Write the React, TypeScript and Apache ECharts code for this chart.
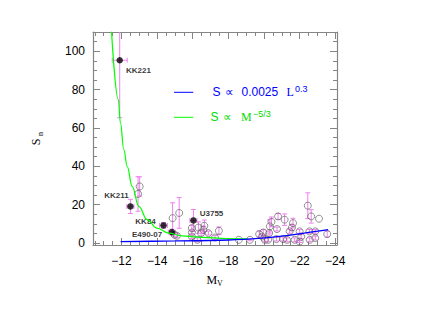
import React, { useEffect, useRef } from 'react';
import * as echarts from 'echarts';

// Labelled dwarfs (filled points)
const DWARF_NAMES = ['KK221', 'KK211', 'KK84', 'E490-07', 'U3755'];
const DWARF_MV = [-11.9, -12.5, -14.36, -14.83, -16.04];
const DWARF_SN = [95.3, 19.1, 9.2, 5.7, 11.8];
const DWARF_SN_ERR = [30, 3.7, 1.5, 1.5, 5.7];
const DWARF_MV_ERR = [0.42, 0.2, 0.22, 0.2, 0.2];

// Comparison sample (open circles)
const OPEN_MV = [
  -13.02, -12.93, -14.87, -15.24, -14.98, -15.11, -15.95, -15.95, -15.95, -16.32,
  -16.47, -16.6, -16.65, -16.26, -16.88, -17.25, -17.47, -18.59, -19.21, -19.73,
  -19.9, -20.05, -19.96, -20.33, -20.42, -20.29, -20.23, -20.79, -20.73, -20.7,
  -21.16, -21.07, -21.29, -21.44, -21.57, -21.63, -21.72, -22.0, -22.09, -22.0,
  -22.46, -22.55, -22.65, -22.57, -22.88, -22.88, -23.09, -23.55,
];
const OPEN_SN = [
  29.5, 25.6, 13.0, 15.7, 4.3, 3.8, 7.8, 5.5, 3.4, 8.1,
  5.2, 6.9, 9.0, 1.7, 5.2, 2.9, 6.4, 1.7, 1.7, 4.7,
  3.4, 1.7, 5.5, 8.7, 11.1, 5.2, 1.7, 13.9, 7.3, 2.1,
  12.2, 2.1, 1.7, 6.1, 8.1, 10.4, 1.7, 6.1, 3.4, 0.8,
  19.5, 6.1, 13.9, 1.7, 6.1, 2.6, 12.7, 4.7,
];
const OPEN_SN_ERR = [
  5, 9, 8, 8, 1, 1, 1.5, 1, 1, 3,
  1.5, 2, 3, 1, 1, 1, 2, 0, 0.5, 1.5,
  1, 1, 1.5, 3.5, 2.5, 1, 1, 1.5, 1, 1,
  3, 1, 1, 1, 1.5, 2.5, 1, 1, 1, 0.5,
  6.7, 1, 3.5, 1, 1, 1, 0, 1.5,
];

// Model curves
const GREEN_MV = [-11.44, -11.82, -11.94, -12.13, -12.32, -12.6, -12.97, -13.44, -13.99, -14.64, -15.39, -16.5, -17.9, -19.1];
const GREEN_SN = [110.3, 74.8, 62.6, 48.7, 40.0, 29.5, 19.1, 12.2, 7.8, 5.2, 3.8, 3.0, 2.4, 2.2];
const BLUE_MV = [-11.95, -15.0, -18.0, -19.5, -21.5, -23.6];
const BLUE_SN = [0.8, 1.1, 1.6, 2.3, 4.2, 7.0];

// Axis ticks
const X_MAJOR = [-24, -22, -20, -18, -16, -14, -12];
const X_MINOR = [-24, -23.5, -23, -22.5, -22, -21.5, -21, -20.5, -20, -19.5, -19, -18.5, -18, -17.5, -17, -16.5, -16, -15.5, -15, -14.5, -14, -13.5, -13, -12.5, -12, -11.5, -11, -10.5];
const Y_MAJOR = [0, 20, 40, 60, 80, 100];
const Y_MINOR = [0, 5, 10, 15, 20, 25, 30, 35, 40, 45, 50, 55, 60, 65, 70, 75, 80, 85, 90, 95, 100, 105, 110];

const X_MIN = -24.1;
const X_MAX = -10.4;
const Y_MIN = -1;
const Y_MAX = 110;

const FRAME = '#858585';
const ERR = '#ee82ee';
const SANS = 'Liberation Sans, Arial, sans-serif';
const SERIF = 'Liberation Serif, Times New Roman, serif';

// label placement for the named dwarfs (style, not data)
const LABEL_PLACE: Record<string, { pos: string; off: [number, number] }> = {
  KK221: { pos: 'right', off: [3, 10] },
  KK211: { pos: 'left', off: [1.5, -11] },
  KK84: { pos: 'left', off: [-4.5, -4] },
  'E490-07': { pos: 'left', off: [-6.5, 2.7] },
  U3755: { pos: 'right', off: [3, -7.4] },
};

const minus = (v: number) => (v < 0 ? '\u2212' + Math.abs(v) : String(v));

function makeXAxis(position: 'top' | 'bottom', values: number[], len: number, labels: boolean, line: boolean) {
  return {
    type: 'value',
    position,
    min: X_MIN,
    max: X_MAX,
    inverse: true,
    axisLine: { show: line, onZero: false, lineStyle: { color: FRAME, width: 1.2 } },
    axisTick: { show: true, inside: true, length: len, customValues: values, lineStyle: { color: FRAME, width: 1 } },
    axisLabel: labels
      ? { show: true, customValues: X_MAJOR, formatter: (v: number) => minus(v), color: '#000', fontSize: 12, fontFamily: SANS, margin: 10 }
      : { show: false },
    splitLine: { show: false },
  };
}

function makeYAxis(position: 'left' | 'right', values: number[], len: number, labels: boolean, line: boolean) {
  return {
    type: 'value',
    position,
    min: Y_MIN,
    max: Y_MAX,
    axisLine: { show: line, onZero: false, lineStyle: { color: FRAME, width: 1.2 } },
    axisTick: { show: true, inside: true, length: len, customValues: values, lineStyle: { color: FRAME, width: 1 } },
    axisLabel: labels
      ? { show: true, customValues: Y_MAJOR, formatter: (v: number) => String(v), color: '#000', fontSize: 12, fontFamily: SANS, margin: 8 }
      : { show: false },
    splitLine: { show: false },
  };
}

function buildOption() {
  const errData: number[][] = [];
  DWARF_MV.forEach((m, i) => errData.push([m, DWARF_SN[i], DWARF_SN_ERR[i], DWARF_MV_ERR[i]]));
  OPEN_MV.forEach((m, i) => errData.push([m, OPEN_SN[i], OPEN_SN_ERR[i], 0]));

  const renderErr = (_params: any, api: any) => {
    const x = api.value(0);
    const y = api.value(1);
    const ey = api.value(2);
    const ex = api.value(3);
    const c = api.coord([x, y]);
    const st = { stroke: ERR, lineWidth: 1 };
    const children: any[] = [];
    const cap = 2.5;
    if (ey > 0) {
      const hiV = Math.min(y + ey, Y_MAX);
      const hi = api.coord([x, hiV]);
      const lo = api.coord([x, y - ey]);
      children.push({ type: 'line', shape: { x1: c[0], y1: hi[1], x2: c[0], y2: lo[1] }, style: st });
      if (hiV === y + ey) children.push({ type: 'line', shape: { x1: c[0] - cap, y1: hi[1], x2: c[0] + cap, y2: hi[1] }, style: st });
      children.push({ type: 'line', shape: { x1: c[0] - cap, y1: lo[1], x2: c[0] + cap, y2: lo[1] }, style: st });
    }
    if (ex > 0) {
      const l = api.coord([x + ex, y]);
      const r = api.coord([x - ex, y]);
      children.push({ type: 'line', shape: { x1: l[0], y1: c[1], x2: r[0], y2: c[1] }, style: st });
      children.push({ type: 'line', shape: { x1: l[0], y1: c[1] - cap, x2: l[0], y2: c[1] + cap }, style: st });
      children.push({ type: 'line', shape: { x1: r[0], y1: c[1] - cap, x2: r[0], y2: c[1] + cap }, style: st });
    }
    return { type: 'group', children };
  };

  const legendY1 = 92.3;
  const legendY2 = 117.3;

  return {
    animation: false,
    backgroundColor: '#fff',
    grid: { left: 93, top: 32, width: 244, height: 213, containLabel: false },
    xAxis: [
      makeXAxis('bottom', X_MAJOR, 7, true, true),
      makeXAxis('bottom', X_MINOR, 4, false, false),
      makeXAxis('top', X_MAJOR, 7, false, true),
      makeXAxis('top', X_MINOR, 4, false, false),
    ],
    yAxis: [
      makeYAxis('left', Y_MAJOR, 7, true, true),
      makeYAxis('left', Y_MINOR, 4, false, false),
      makeYAxis('right', Y_MAJOR, 7, false, true),
      makeYAxis('right', Y_MINOR, 4, false, false),
    ],
    series: [
      {
        type: 'custom',
        name: 'errors',
        xAxisIndex: 0,
        yAxisIndex: 0,
        renderItem: renderErr,
        data: errData,
        silent: true,
        z: 1,
      },
      {
        type: 'scatter',
        name: 'sample',
        xAxisIndex: 0,
        yAxisIndex: 0,
        symbol: 'circle',
        symbolSize: 7,
        itemStyle: { color: 'rgba(0,0,0,0)', borderColor: '#555', borderWidth: 0.8 },
        data: OPEN_MV.map((m, i) => [m, OPEN_SN[i]]),
        z: 2,
      },
      {
        type: 'scatter',
        name: 'dwarfs',
        xAxisIndex: 0,
        yAxisIndex: 0,
        symbol: 'circle',
        symbolSize: 6.5,
        itemStyle: { color: '#000' },
        data: DWARF_NAMES.map((n, i) => ({
          name: n,
          value: [DWARF_MV[i], DWARF_SN[i]],
          label: { position: LABEL_PLACE[n].pos, offset: LABEL_PLACE[n].off },
        })),
        label: {
          show: true,
          formatter: (p: any) => p.name,
          distance: 0,
          color: '#000',
          fontSize: 8,
          fontWeight: 'bold',
          fontFamily: SANS,
        },
        z: 3,
      },
      {
        type: 'line',
        name: 'green',
        xAxisIndex: 0,
        yAxisIndex: 0,
        data: GREEN_MV.map((m, i) => [m, GREEN_SN[i]]),
        showSymbol: false,
        smooth: 0.4,
        smoothMonotone: 'x',
        clip: true,
        lineStyle: { color: '#00ff00', width: 1.2 },
        z: 4,
      },
      {
        type: 'line',
        name: 'blue',
        xAxisIndex: 0,
        yAxisIndex: 0,
        data: BLUE_MV.map((m, i) => [m, BLUE_SN[i]]),
        showSymbol: false,
        smooth: 0.3,
        clip: true,
        lineStyle: { color: '#0000ff', width: 1.3 },
        z: 4,
      },
    ],
    graphic: [
      // legend
      { type: 'line', shape: { x1: 174, y1: legendY1, x2: 193.3, y2: legendY1 }, style: { stroke: '#0000ff', lineWidth: 1 } },
      { type: 'line', shape: { x1: 174, y1: legendY2, x2: 193.3, y2: legendY2 }, style: { stroke: '#00ff00', lineWidth: 1 } },
      { type: 'text', x: 212.5, y: legendY1, style: { text: 'S', fill: '#0000ff', font: `12px ${SANS}`, verticalAlign: 'middle' } },
      { type: 'text', x: 224.5, y: legendY1, style: { text: '\u221d', fill: '#0000ff', font: `12px ${SANS}`, verticalAlign: 'middle' } },
      { type: 'text', x: 241.5, y: legendY1, style: { text: '0.0025', fill: '#0000ff', font: `12px ${SANS}`, verticalAlign: 'middle' } },
      { type: 'text', x: 286.5, y: legendY1, style: { text: 'L', fill: '#0000ff', font: `12px ${SERIF}`, verticalAlign: 'middle' } },
      { type: 'text', x: 295, y: legendY1 - 3, style: { text: '0.3', fill: '#0000ff', font: `9px ${SANS}`, verticalAlign: 'middle' } },
      { type: 'text', x: 210.5, y: legendY2, style: { text: 'S', fill: '#00dd00', font: `12px ${SANS}`, verticalAlign: 'middle' } },
      { type: 'text', x: 223, y: legendY2, style: { text: '\u221d', fill: '#00dd00', font: `12px ${SANS}`, verticalAlign: 'middle' } },
      { type: 'text', x: 241, y: legendY2, style: { text: 'M', fill: '#00dd00', font: `12px ${SERIF}`, verticalAlign: 'middle' } },
      { type: 'text', x: 253, y: legendY2 - 3.5, style: { text: '\u22125/3', fill: '#00dd00', font: `9px ${SANS}`, verticalAlign: 'middle' } },
      // axis titles
      { type: 'text', x: 206.5, y: 280, style: { text: 'M', fill: '#000', font: `12px ${SERIF}`, verticalAlign: 'middle' } },
      { type: 'text', x: 217, y: 283.5, style: { text: 'V', fill: '#000', font: `8px ${SERIF}`, verticalAlign: 'middle' } },
      {
        type: 'group',
        x: 36,
        y: 140,
        rotation: Math.PI / 2,
        children: [
          { type: 'text', x: -2, y: 0, style: { text: 'S', fill: '#000', font: `12px ${SERIF}`, align: 'center', verticalAlign: 'middle' } },
          { type: 'text', x: 6, y: 4, style: { text: 'n', fill: '#000', font: `8px ${SERIF}`, align: 'center', verticalAlign: 'middle' } },
        ],
      },
    ],
  };
}

export default function App() {
  const ref = useRef<HTMLDivElement>(null);
  useEffect(() => {
    if (!ref.current) return;
    const chart = echarts.init(ref.current, null, { renderer: 'svg' });
    chart.setOption(buildOption() as any);
    return () => {
      chart.dispose();
    };
  }, []);
  return (
    <div
      ref={ref}
      style={{ position: 'fixed', left: 0, top: 0, width: 423, height: 327, background: '#fff' }}
    />
  );
}
